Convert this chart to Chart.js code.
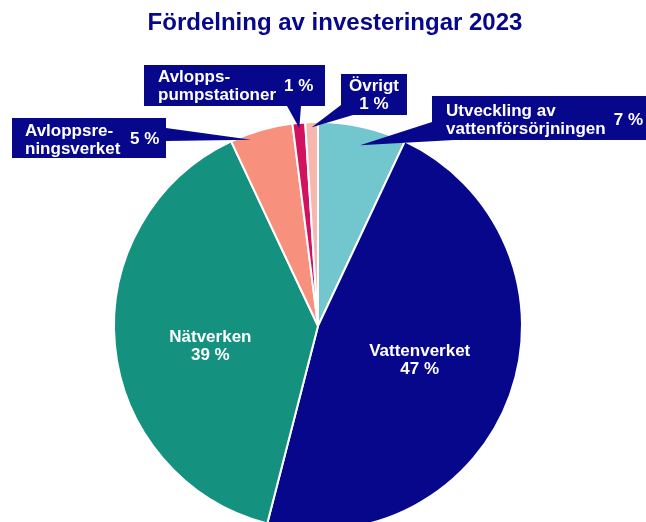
<!DOCTYPE html>
<html>
<head>
<meta charset="utf-8">
<script src="https://cdn.jsdelivr.net/npm/chart.js@4"></script>
<style>
  html, body { margin: 0; padding: 0; background: #fff; width: 646px; height: 522px; overflow: hidden; }
  canvas { display: block; }
</style>
</head>
<body>
<canvas id="investChart" width="646" height="540"></canvas>
<script>
// Fördelning av investeringar 2023 (andel i procent)
const categories = ['Utveckling av vattenförsörjningen', 'Vattenverket', 'Nätverken',
                    'Avloppsreningsverket', 'Avloppspumpstationer', 'Övrigt'];
const shares = [7, 47, 39, 5, 1, 1];
// hur namnen radbryts i etiketterna
const labelLines = [
    ['Utveckling av', 'vattenförsörjningen'],
    ['Vattenverket'],
    ['Nätverken'],
    ['Avloppsre-', 'ningsverket'],
    ['Avlopps-', 'pumpstationer'],
    ['Övrigt']
];
const chartTitle = 'Fördelning av investeringar 2023';

const NAVY = '#07078c';
const sliceColors = ['#72c7cf', NAVY, '#159180', '#f8907e', '#d2115f', '#f6b7af'];
const FONT = '"Liberation Sans", Arial, sans-serif';

function pct(i) {
    return shares[i] + ' %';
}

// etiketter inne i de stora tårtbitarna
const insideLabels = { 1: { frac: 0.53, dy: -2 }, 2: { frac: 0.53, dy: 10 } };

// pratbubblor för de små bitarna: ruta, textplacering, pilens bas och spets
const callouts = [
    { i: 0, box: [432, 96, 220, 44], text: [446, 116], pctAt: [643, 125, 'right'],
      base: [[432, 122], [454, 140]], t: 0.52, frac: 0.91 },
    { i: 3, box: [12, 118, 154, 40], text: [25, 136], pctAt: [130, 144, 'left'],
      base: [[166, 128], [166, 141]], t: 0.3, frac: 0.97 },
    { i: 4, box: [144, 65, 181, 41], text: [158, 82], pctAt: [284, 91, 'left'],
      base: [[287, 106], [301, 106]], t: 0.5, frac: 0.975 },
    { i: 5, box: [341, 74, 66, 41], text: [374, 91, 'center'], pctAt: [374, 109, 'center'],
      base: [[341, 105], [353, 115]], t: 0.5, frac: 0.975 }
];

const labelPlugin = {
    id: 'labelPlugin',
    afterDraw(chart) {
        const ctx = chart.ctx;
        const meta = chart.getDatasetMeta(0);
        ctx.save();

        // rubrik
        ctx.fillStyle = NAVY;
        ctx.font = 'bold 24px ' + FONT;
        ctx.textAlign = 'center';
        ctx.textBaseline = 'middle';
        ctx.fillText(chartTitle, 335, 23);

        // etiketter i tårtbitarna
        ctx.fillStyle = '#fff';
        ctx.font = 'bold 17px ' + FONT;
        Object.keys(insideLabels).forEach(k => {
            const i = +k;
            const arc = meta.data[i];
            const p = arc.getProps(['x', 'y', 'startAngle', 'endAngle', 'outerRadius'], true);
            const mid = (p.startAngle + p.endAngle) / 2;
            const r = p.outerRadius * insideLabels[i].frac;
            const cx = p.x + Math.cos(mid) * r;
            const cy = p.y + Math.sin(mid) * r + insideLabels[i].dy;
            ctx.fillText(labelLines[i][0], cx, cy - 9);
            ctx.fillText(pct(i), cx, cy + 9);
        });

        // pratbubblor
        callouts.forEach(c => {
            const arc = meta.data[c.i];
            const p = arc.getProps(['x', 'y', 'startAngle', 'endAngle', 'outerRadius'], true);
            const a = p.startAngle + (p.endAngle - p.startAngle) * c.t;
            const tipX = p.x + Math.cos(a) * p.outerRadius * c.frac;
            const tipY = p.y + Math.sin(a) * p.outerRadius * c.frac;

            ctx.fillStyle = NAVY;
            ctx.beginPath();
            ctx.moveTo(c.base[0][0], c.base[0][1]);
            ctx.lineTo(tipX, tipY);
            ctx.lineTo(c.base[1][0], c.base[1][1]);
            ctx.closePath();
            ctx.fill();
            ctx.fillRect(c.box[0], c.box[1], c.box[2], c.box[3]);

            ctx.fillStyle = '#fff';
            ctx.font = 'bold 17px ' + FONT;
            ctx.textBaseline = 'alphabetic';
            ctx.textAlign = c.text[2] || 'left';
            labelLines[c.i].forEach((line, j) => {
                ctx.fillText(line, c.text[0], c.text[1] + j * 17.5);
            });
            ctx.textAlign = c.pctAt[2];
            ctx.fillText(pct(c.i), c.pctAt[0], c.pctAt[1]);
        });
        ctx.restore();
    }
};

const ctx = document.getElementById('investChart').getContext('2d');
const investChart = new Chart(ctx, {
    type: 'pie',
    data: {
        labels: categories,
        datasets: [{
            data: shares,
            backgroundColor: sliceColors,
            borderColor: '#ffffff',
            borderWidth: 2,
            hoverOffset: 0
        }]
    },
    options: {
        responsive: false,
        animation: false,
        events: [],
        layout: {
            padding: { top: 120, left: 113, right: 123, bottom: 8 }
        },
        plugins: {
            legend: { display: false },
            tooltip: { enabled: false },
            title: { display: false }
        }
    },
    plugins: [labelPlugin]
});
</script>
</body>
</html>
